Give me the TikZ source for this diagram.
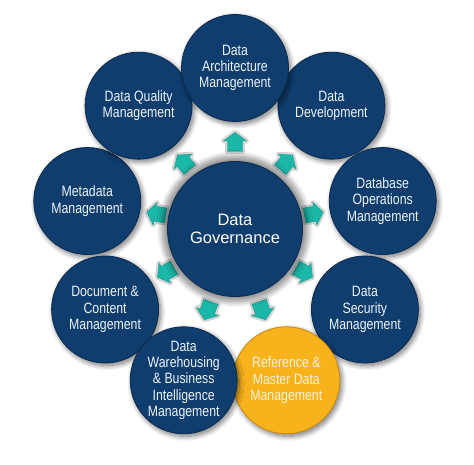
\documentclass[tikz,border=0pt]{standalone}
\usepackage{fontspec}
\setmainfont{Liberation Sans}
\newfontfamily\narrowfont{Liberation Sans}[FakeStretch=0.82]
\usetikzlibrary{shadows.blur,calc}
\definecolor{navy}{HTML}{0F3D6E}
\definecolor{navyedge}{HTML}{0A2A4E}
\definecolor{gold}{HTML}{F7B21C}
\definecolor{goldedge}{HTML}{C88A0E}
\definecolor{teal}{HTML}{1BB8AA}
\definecolor{txt}{HTML}{EEF3FA}
\definecolor{goldtxt}{HTML}{FFF4DC}
\tikzset{
  bubble/.style={circle, minimum size=107pt, inner sep=0pt, fill=navy, draw=navyedge, line width=0.8pt,
    text=txt, align=center, font=\narrowfont\fontsize{15}{16.3}\selectfont,
    blur shadow={shadow blur steps=10, shadow xshift=2pt, shadow yshift=-2.5pt, shadow blur radius=5pt, shadow opacity=55}},
  goldbubble/.style={bubble, fill=gold, draw=goldedge, text=goldtxt},
  hub/.style={circle, minimum size=135pt, inner sep=0pt, fill=navy, draw=navyedge, line width=0.8pt,
    text=white, align=center, font=\fontsize{16.5}{17.5}\selectfont,
    blur shadow={shadow blur steps=10, shadow xshift=0pt, shadow yshift=0pt, shadow scale=1.08, shadow blur radius=5pt, shadow opacity=45}},
  arrowhalo/.style={draw=gray!55, line width=5pt, line join=round, opacity=0.6},
  arrowfill/.style={fill=teal, draw=teal!80!black, line width=0.4pt, line join=round}
}
\begin{document}
\begin{tikzpicture}[x=1pt,y=1pt]
\useasboundingbox (0,0) rectangle (474,464);
\coordinate (c) at (235,235);
% arrows
\foreach \a in {90,50,10,-30,-70,-110,-150,170,130}{
  \begin{scope}[shift={({235+80*cos(\a)},{235+87*sin(\a)})}, rotate=\a-90]
    \path[arrowhalo] (0,9.5) -- (11.5,1) -- (7.5,1) -- (7.5,-9.5) -- (-7.5,-9.5) -- (-7.5,1) -- (-11.5,1) -- cycle;
    \path[arrowfill] (0,9.5) -- (11.5,1) -- (7.5,1) -- (7.5,-9.5) -- (-7.5,-9.5) -- (-7.5,1) -- (-11.5,1) -- cycle;
  \end{scope}
}
\node[hub] (gov) at (c) {Data\\Governance};
% outer ring (slightly elliptical, as in the reference)
\node[bubble] (meta) at ($(c)+({150*cos(170)},{161*sin(170)})$) {Metadata\\Management};
\node[bubble] (quality) at ($(c)+({150*cos(130)},{161*sin(130)})$) {Data Quality\\Management};
\node[bubble] (dev) at ($(c)+({150*cos(50)},{161*sin(50)})$) {Data\\Development};
\node[bubble] (arch) at ($(c)+({150*cos(90)},{161*sin(90)})$) {Data\\Architecture\\Management};
\node[bubble] (dbops) at ($(c)+({150*cos(10)},{161*sin(10)})$) {Database\\Operations\\Management};
\node[bubble] (sec) at ($(c)+({150*cos(-30)},{161*sin(-30)})$) {Data\\Security\\Management};
\node[bubble] (doc) at ($(c)+({150*cos(-150)},{161*sin(-150)})$) {Document \&\\Content\\Management};
\node[goldbubble] (ref) at ($(c)+({150*cos(-70)},{161*sin(-70)})$) {Reference \&\\Master Data\\Management};
\node[bubble] (dw) at ($(c)+({150*cos(-110)},{161*sin(-110)})$) {Data\\Warehousing\\\& Business\\Intelligence\\Management};
\end{tikzpicture}
\end{document}
